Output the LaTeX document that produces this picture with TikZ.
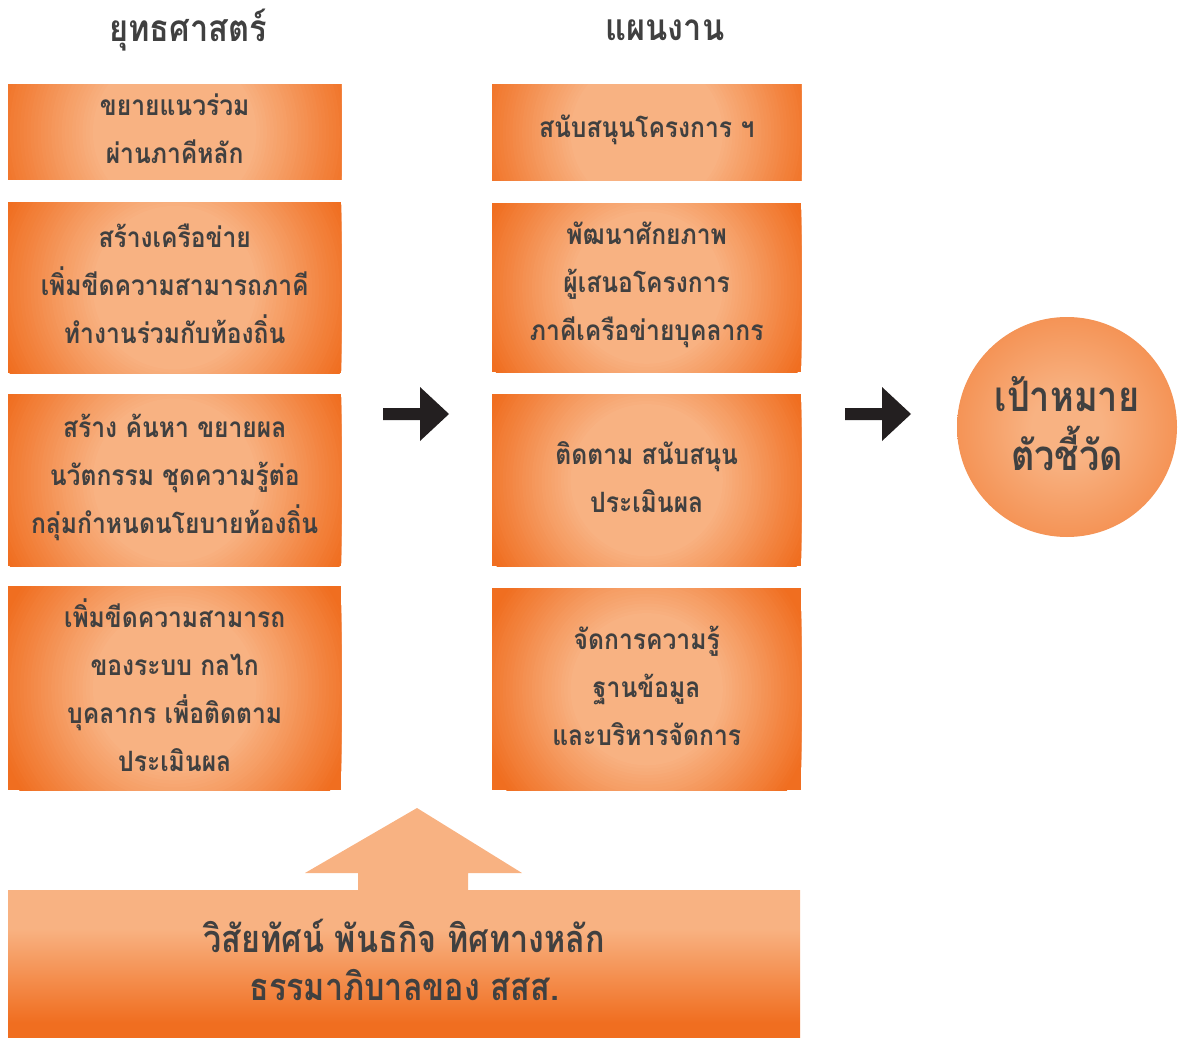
\documentclass[tikz,border=0pt]{standalone}
\usepackage{fontspec}
\newfontfamily\thaibox[Script=Thai,FakeStretch=0.88]{Loma}
\newfontfamily\thaihead[Script=Thai,FakeStretch=0.88]{Loma}
\newfontfamily\thaigoal[Script=Thai,FakeStretch=0.86]{Loma}
\newfontfamily\thaibase[Script=Thai,FakeStretch=0.85]{Loma}
\definecolor{lightor}{HTML}{F8B282}
\definecolor{deepor}{HTML}{F06E20}
\definecolor{inkgray}{HTML}{404040}
\definecolor{inkdark}{HTML}{231F20}
% glow of the goal disc
\pgfdeclareradialshading{ballglow}{\pgfpoint{0bp}{0bp}}{color(0bp)=(lightor); color(8bp)=(lightor); color(46bp)=(deepor); color(50bp)=(deepor)}
% light top fading to deep orange at the foot of the base plate
\pgfdeclareverticalshading{baseband}{100bp}{color(0bp)=(deepor); color(30bp)=(deepor); color(62bp)=(lightor); color(100bp)=(lightor)}
\tikzset{
  panel/.style={rectangle, fill=deepor, inner sep=0pt, anchor=north west},
  boxtext/.style={text=inkgray, align=center, inner sep=0pt,
    font=\thaibox\bfseries\fontsize{28}{48}\selectfont},
  heading/.style={text=inkgray, font=\thaihead\bfseries\fontsize{37}{40}\selectfont},
  goal/.style={circle, shading=ballglow, minimum size=220pt, inner sep=0pt},
  goaltext/.style={text=inkgray, align=center, inner sep=0pt,
    font=\thaigoal\bfseries\fontsize{42}{59}\selectfont},
  baseplate/.style={rectangle, shading=baseband, anchor=north west, inner sep=0pt,
    minimum width=792pt, minimum height=147pt},
  basetext/.style={text=inkgray, align=center, inner sep=0pt,
    font=\thaibase\bfseries\fontsize{38}{48}\selectfont},
  blockarrow/.style={fill=inkdark},
  liftarrow/.style={fill=lightor}
}
\begin{document}
\begin{tikzpicture}[x=1pt,y=-1pt]
\useasboundingbox (0,0) rectangle (1181,1038);

% column headings
\node[heading] (hstrat) at (188,30) {ยุทธศาสตร์};
\node[heading] (hplan) at (665,30) {แผนงาน};

% panel plates
\node[panel, minimum width=333pt, minimum height=94pt] (s1) at (8,85) {};
\node[panel, minimum width=333pt, minimum height=171pt] (s2) at (8,202) {};
\node[panel, minimum width=333pt, minimum height=172pt] (s3) at (8,394) {};
\node[panel, minimum width=333pt, minimum height=204pt] (s4) at (8,586) {};
\node[panel, minimum width=309pt, minimum height=95pt] (p1) at (492,85) {};
\node[panel, minimum width=309pt, minimum height=169pt] (p2) at (492,203) {};
\node[panel, minimum width=309pt, minimum height=172pt] (p3) at (492,394) {};
\node[panel, minimum width=309pt, minimum height=202pt] (p4) at (492,588) {};

% round light glow inside every panel, built from concentric discs
% stepping from deep orange at radius r to the light tint at 0.44 r
\foreach \n/\r in {s1/186,s2/186,s3/186,s4/186,p1/173,p2/173,p3/173,p4/173}{
  \begin{scope}
    \clip (\n.north west) rectangle (\n.south east);
    \foreach \k in {0,...,30}{
      \pgfmathsetmacro{\rad}{\r*(1-0.56*\k/30)}
      \pgfmathtruncatemacro{\mix}{100*\k/30}
      \fill[fill=lightor!\mix!deepor] (\n.center) circle[radius=\rad pt];
    }
  \end{scope}
}

% strategy column texts
\node[boxtext] (s1t) at ([yshift=3pt]s1.center) {ขยายแนวร่วม\\ผ่านภาคีหลัก};
\node[boxtext] (s2t) at ([yshift=4pt]s2.center)
  {สร้างเครือข่าย\\เพิ่มขีดความสามารถภาคี\\ทำงานร่วมกับท้องถิ่น};
\node[boxtext] (s3t) at ([yshift=3pt]s3.center)
  {สร้าง ค้นหา ขยายผล\\นวัตกรรม ชุดความรู้ต่อ\\กลุ่มกำหนดนโยบายท้องถิ่น};
\node[boxtext] (s4t) at ([yshift=3pt]s4.center)
  {เพิ่มขีดความสามารถ\\ของระบบ กลไก\\บุคลากร เพื่อติดตาม\\ประเมินผล};

% plan column texts
\node[boxtext] (p1t) at ([yshift=3pt]p1.center) {สนับสนุนโครงการ ฯ};
\node[boxtext] (p2t) at ([yshift=3pt]p2.center)
  {พัฒนาศักยภาพ\\ผู้เสนอโครงการ\\ภาคีเครือข่ายบุคลากร};
\node[boxtext] (p3t) at ([yshift=3pt]p3.center) {ติดตาม สนับสนุน\\ประเมินผล};
\node[boxtext] (p4t) at ([yshift=3pt]p4.center)
  {จัดการความรู้\\ฐานข้อมูล\\และบริหารจัดการ};

% goal disc
\node[goal] (g) at (1067,427) {};
\node[goaltext] (gt) at ([yshift=3pt]g.center) {เป้าหมาย\\ตัวชี้วัด};

% block arrows between the columns
\coordinate (a1) at (383,414);
\coordinate (a2) at (845,414);
\foreach \c in {a1,a2}
  \fill[blockarrow] (\c) ++(0,-6) -- ++(37,0) -- ++(0,-21) -- ++(29,27)
    -- ++(-29,27) -- ++(0,-21) -- ++(-37,0) -- cycle;

% base plate with the upward arrow
\node[baseplate] (base) at (8,890) {};
\node[basetext] (baset) at ([yshift=4pt]base.center)
  {วิสัยทัศน์ พันธกิจ ทิศทางหลัก\\ธรรมาภิบาลของ สสส.};
\coordinate (uptip) at (417,808);
\fill[liftarrow] (uptip) -- ++(105,65) -- ++(-54,0) -- (468,890 |- base.north)
  -- (358,890 |- base.north) -- ++(0,-17) -- ++(-53,0) -- cycle;
\end{tikzpicture}
\end{document}
